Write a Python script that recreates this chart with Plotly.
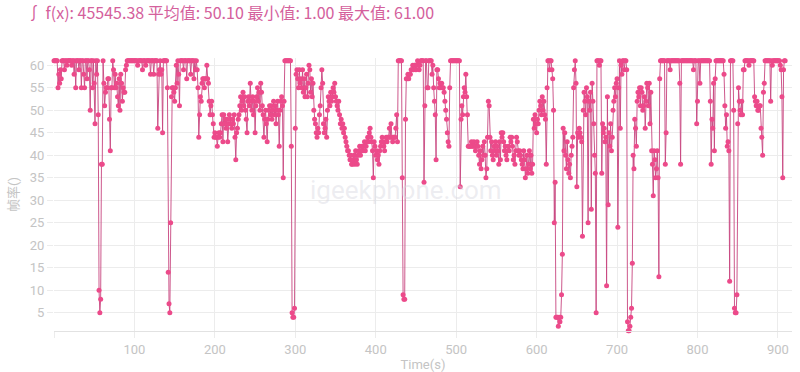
import plotly.graph_objects as go

fps = [
    61,61,61,61,61,55,58,56,59,57,
    61,61,61,59,61,61,60,61,61,61,
    61,61,60,61,61,58,61,55,61,61,
    61,59,61,61,55,61,61,58,55,61,
    61,57,61,61,59,50,61,61,55,61,
    56,47,61,58,61,49,10,5,8,38,
    38,61,56,51,54,55,55,57,57,48,
    41,55,55,61,59,55,58,55,56,53,
    51,57,50,58,56,52,55,54,54,59,
    60,61,61,61,61,61,61,61,61,61,
    61,61,61,61,60,61,61,61,61,61,
    59,61,61,61,60,61,61,61,61,61,
    58,61,61,61,58,61,61,61,61,46,
    58,59,61,58,59,45,61,61,61,61,
    61,55,14,7,5,25,53,55,55,54,
    52,55,60,56,61,58,51,61,61,61,
    61,59,61,61,61,57,61,61,61,61,
    58,61,61,61,57,61,59,61,59,55,
    44,49,53,52,56,57,57,55,57,57,
    60,57,56,52,49,51,52,49,47,44,
    45,44,44,42,44,45,44,45,47,49,
    43,49,47,48,46,48,43,47,49,48,
    47,46,48,47,49,44,39,45,46,48,
    49,51,53,50,52,54,51,53,50,48,
    45,52,53,51,56,52,50,53,49,52,
    45,51,53,55,52,54,50,56,54,51,
    49,44,48,50,47,43,48,50,51,49,
    51,48,50,52,49,51,47,50,52,49,
    42,50,52,53,51,35,52,61,61,61,
    61,61,61,61,61,42,5,4,4,6,
    46,58,59,57,55,59,56,57,55,59,
    54,57,53,55,58,53,56,60,59,54,
    57,53,56,50,48,47,45,44,46,45,
    49,51,55,59,56,47,45,46,48,44,
    50,53,52,51,54,52,53,55,54,56,
    53,52,51,50,52,49,47,48,46,47,
    45,46,44,43,42,41,41,40,39,40,
    38,38,39,40,38,41,39,38,40,41,
    42,40,41,42,41,42,43,41,42,43,
    44,43,45,46,44,43,41,35,43,42,
    40,41,39,40,38,41,42,43,44,43,
    42,41,43,44,43,44,44,46,44,47,
    44,43,44,44,44,46,49,43,61,61,
    61,61,61,35,9,8,8,48,57,57,
    58,57,58,58,59,59,60,59,60,60,
    59,60,61,60,59,60,61,61,61,61,
    34,51,61,61,55,55,61,61,61,61,
    58,60,55,52,49,39,59,59,57,55,
    56,55,56,55,55,54,52,50,48,45,
    43,42,55,61,61,61,61,61,61,61,
    61,61,61,61,61,33,48,51,49,53,
    55,54,58,53,49,42,42,42,42,43,
    42,42,43,42,41,42,43,42,40,38,
    41,37,39,42,40,43,40,35,37,44,
    52,51,44,41,43,40,39,42,41,43,
    40,42,41,38,43,39,45,44,45,43,
    41,42,40,39,41,42,41,44,43,44,
    42,39,40,38,41,44,43,41,40,41,
    40,39,38,37,41,39,35,37,40,36,
    38,41,37,40,36,38,48,46,49,47,
    45,48,47,50,52,51,49,53,50,52,
    49,48,38,55,61,61,59,61,61,59,
    57,50,25,34,4,4,4,2,4,3,
    4,9,18,46,41,45,40,37,43,39,
    36,38,35,40,42,44,55,59,61,56,
    33,45,44,46,45,44,43,22,50,54,
    52,49,55,53,25,52,50,54,28,56,
    52,47,40,36,5,61,61,61,60,61,
    61,36,47,45,46,43,44,11,53,29,
    45,42,47,41,44,50,52,55,53,56,
    57,24,55,61,46,60,58,61,61,59,
    61,61,59,3,1,1,2,4,6,16,
    40,37,48,46,42,52,54,53,55,51,
    55,54,50,51,53,46,52,56,55,51,
    56,47,54,41,38,31,41,39,35,37,
    41,35,13,57,61,61,61,61,61,61,
    38,45,61,61,61,61,59,61,61,61,
    61,61,61,61,61,61,61,61,56,38,
    61,61,61,61,61,61,61,61,61,61,
    61,61,61,61,61,59,61,61,61,47,
    52,61,61,56,61,61,61,61,61,61,
    61,61,61,61,61,61,52,38,48,46,
    56,41,57,61,61,61,61,61,61,61,
    61,61,61,58,51,46,49,42,43,41,
    12,61,61,61,61,50,6,5,5,9,
    47,55,52,50,49,52,49,59,59,61,
    61,61,61,61,60,61,61,61,61,61,
    61,53,52,51,52,50,50,51,51,46,
    44,40,54,56,61,61,61,61,61,61,
    61,52,61,60,61,61,61,61,61,61,
    61,61,61,60,59,53,35,59,61,61,
]
time_s = list(range(len(fps)))

x_tickvals = [0, 100, 200, 300, 400, 500, 600, 700, 800, 900]
x_ticktext = ["", "100", "200", "300", "400", "500", "600", "700", "800", "900"]
y_tickvals = [5, 10, 15, 20, 25, 30, 35, 40, 45, 50, 55, 60]

title_text = "∫ f(x): 45545.38 平均值: 50.10 最小值: 1.00 最大值: 61.00"
x_title = "Time(s)"
y_title = "帧率()"
watermark = "igeekphone.com"

GRID = "#ececec"
LABEL = "#c4c4c4"
FONT = "Roboto, 'Noto Sans CJK SC', sans-serif"

fig = go.Figure()
fig.add_trace(go.Scatter(
    x=time_s, y=fps, mode="lines+markers",
    line=dict(color="rgba(200,70,128,0.9)", width=1),
    marker=dict(color="#ec4a8a", size=5, line=dict(width=0)),
    cliponaxis=False, showlegend=False,
))

fig.update_layout(
    width=800, height=372,
    margin=dict(l=54, r=8, t=58, b=41),
    paper_bgcolor="white", plot_bgcolor="white",
    font=dict(family=FONT, size=13, color=LABEL),
    title=dict(text=title_text, x=26/800, xanchor="left", xref="container",
               y=1-13/372, yanchor="middle", yref="container",
               font=dict(family="'Noto Sans CJK SC', Roboto, sans-serif", size=16, color="#d4609c")),
    xaxis=dict(range=[0, 917.5], tickvals=x_tickvals, ticktext=x_ticktext,
               showgrid=True, gridcolor=GRID, gridwidth=1, zeroline=False,
               showline=True, linecolor="#e2e2e2", linewidth=1,
               ticks="outside", ticklen=6, tickcolor=GRID, automargin=False,
               tickfont=dict(size=13, color=LABEL),
               title=dict(text=x_title, standoff=14, font=dict(size=13, color=LABEL))),
    yaxis=dict(range=[0.92, 61.6], tickvals=y_tickvals,
               showgrid=True, gridcolor=GRID, gridwidth=1, zeroline=False,
               showline=False, ticks="outside", ticklen=6, tickcolor=GRID, automargin=False,
               tickfont=dict(size=13, color=LABEL),
               title=dict(text=y_title, standoff=8, font=dict(size=13, color=LABEL))),
)

fig.add_annotation(text=watermark, xref="paper", yref="paper",
                   x=(406-54)/738, y=(331-190)/273, showarrow=False,
                   font=dict(size=26, color="rgba(215,215,225,0.45)", family="Roboto, sans-serif"))

fig.write_html("out.html")
